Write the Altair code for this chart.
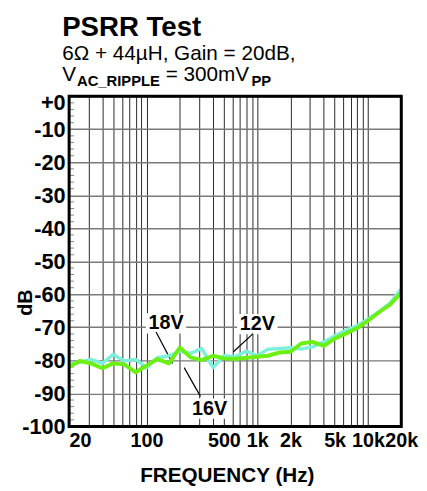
import altair as alt
import pandas as pd

# ---------------- data ----------------
freqs = [20, 25, 31.5, 40, 50, 63, 80, 100, 125, 160, 200, 250, 315, 400, 500, 630,
         800, 1000, 1250, 1600, 2000, 2500, 3150, 4000, 5000, 6300, 8000, 10000,
         12500, 16000, 20000]
cyan_db = [-81.2, -80.6, -79.7, -80.9, -78.2, -80.2, -79.7, -82.2, -79.2, -78.6,
           -77.2, -77.9, -76.4, -82.2, -78.6, -78.9, -77.2, -78.6, -76.6, -76.4,
           -76.2, -76.6, -75.9, -74.4, -72.6, -70.9, -69.5, -67.5, -65.3, -62.5, -58.3]
green_db = [-81.9, -80.2, -80.9, -82.4, -80.9, -81.2, -83.6, -81.6, -79.6, -80.9,
            -76.1, -79.1, -79.9, -78.6, -79.4, -79.6, -79.2, -78.9, -78.6, -77.6,
            -77.4, -74.9, -74.4, -75.6, -73.4, -71.9, -70.2, -68.0, -65.5, -63.0, -59.5]

grid_x = [20, 30, 40, 50, 60, 70, 80, 90, 100, 200, 300, 400, 500, 600, 700, 800, 900,
          1000, 2000, 3000, 4000, 5000, 6000, 7000, 8000, 9000, 10000, 20000]
label_x = [20, 100, 500, 1000, 2000, 5000, 10000, 20000]
y_ticks = list(range(-100, 1, 10))
y_minor = [v for v in range(-98, 0, 2) if v % 10 != 0]

ann_text = ["18V", "12V", "16V"]
ann_f = [150, 1003, 371]
ann_db = [-68.8, -69.0, -94.6]
lead_f1 = [122, 918, 219]
lead_db1 = [-71.4, -71.9, -82.2]
lead_f2 = [172, 610, 307]
lead_db2 = [-80.9, -77.4, -90.9]

FONT = "Liberation Sans"
W, H = 337, 335

# ---------------- scales / axes ----------------
xs = alt.Scale(type="log", domain=[20, 20000], nice=False)
ys = alt.Scale(domain=[-100, 0], nice=False, zero=False)

x_axis = alt.Axis(
    values=grid_x,
    labelExpr="indexof(%s, datum.value) >= 0 ? (datum.value >= 1000 ? (datum.value/1000) + 'k' : '' + datum.value) : ''" % str(label_x),
    grid=True, gridColor="#2a2a2a", gridWidth=1, ticks=False, domain=False,
    labelFont=FONT, labelFontWeight="bold", labelFontSize=20, labelColor="black",
    labelPadding=4, labelOverlap=False, labelFlush=False,
    labelAlign={"condition": {"test": "datum.value <= 20", "value": "left"}, "value": "center"},
    title="FREQUENCY (Hz)", titleFont=FONT, titleFontSize=21, titleFontWeight="bold",
    titleColor="black", titleX=160, titleY=56, titleAlign="center", titleBaseline="alphabetic",
)
y_axis = alt.Axis(
    values=y_ticks,
    labelExpr="datum.value == 0 ? '+0' : '-' + abs(datum.value)",
    grid=True, gridColor="#7a7a7a", gridWidth=1.5, ticks=False, domain=False,
    labelFont=FONT, labelFontWeight="bold", labelFontSize=22, labelColor="black",
    labelPadding=4, labelFlush=False, labelOverlap=False,
    labelOffset={"condition": {"test": "datum.value == 0", "value": 6}, "value": 0},
    title="dB", titleFont=FONT, titleFontSize=20, titleFontWeight="bold", titleColor="black",
    titleX=-38, titleY=209, titleAlign="center", titleBaseline="alphabetic", titleAngle=270,
)


def X(field):
    return alt.X(field, type="quantitative", scale=xs, axis=x_axis)


def Y(field):
    return alt.Y(field, type="quantitative", scale=ys, axis=y_axis)


cyan_df = pd.DataFrame({"f": freqs, "db": cyan_db})
green_df = pd.DataFrame({"f": freqs, "db": green_db})
ann_df = pd.DataFrame({"t": ann_text, "f": ann_f, "db": ann_db})
lead_df = pd.DataFrame({"f": lead_f1, "db": lead_db1, "f2": lead_f2, "db2": lead_db2})
minor_df = pd.DataFrame({"db": y_minor})
one = pd.DataFrame({"k": [0]})

minor = alt.Chart(minor_df).mark_rule(color="#888888", strokeWidth=1).encode(
    x=alt.value(0), x2=alt.value(5), y=Y("db"))

boxes = alt.Chart(ann_df).mark_point(
    shape="M-1,-0.5L1,-0.5L1,0.5L-1,0.5Z", filled=True, fill="white",
    size=1681, opacity=1, strokeWidth=0).encode(x=X("f"), y=Y("db"))

leads = alt.Chart(lead_df).mark_rule(color="black", strokeWidth=1.2).encode(
    x=X("f"), y=Y("db"), x2="f2", y2="db2")

cyan = alt.Chart(cyan_df).mark_line(color="#7df0dc", strokeWidth=3.5, strokeJoin="round").encode(
    x=X("f"), y=Y("db"))
green = alt.Chart(green_df).mark_line(color="#6cf014", strokeWidth=4, strokeJoin="round").encode(
    x=X("f"), y=Y("db"))

ann = alt.Chart(ann_df).mark_text(font=FONT, fontSize=20, fontWeight="bold", color="black",
                                  align="center", baseline="middle").encode(
    x=X("f"), y=Y("db"), text="t")

frame = alt.Chart(one).mark_rect(fill=None, fillOpacity=0, stroke="black", strokeWidth=3).encode(
    x=alt.value(0), x2=alt.value(W), y=alt.value(0), y2=alt.value(H))


def txt(s, x, y, size, weight):
    return alt.Chart(one).mark_text(text=s, font=FONT, fontSize=size, fontWeight=weight,
                                    color="black", align="left", baseline="alphabetic").encode(
        x=alt.value(x), y=alt.value(y))


t1 = txt("PSRR Test", -7, -61, 28, "bold")
t2 = txt("6Ω + 44µH, Gain = 20dB,", -7, -37, 21, "normal")
t3 = txt("V", -7, -15, 21, "normal")
t4 = txt("AC_RIPPLE", 8, -10, 15, "bold")
t5 = txt("= 300mV", 98, -15, 21, "normal")
t6 = txt("PP", 185, -10, 15, "bold")

chart = alt.layer(minor, boxes, leads, cyan, green, ann, frame, t1, t2, t3, t4, t5, t6).properties(
    width=W, height=H,
    autosize=alt.AutoSizeParams(type="none"),
    padding={"left": 62, "top": 86, "right": 18, "bottom": 62},
).configure_view(stroke=None).configure(background="white")

chart.save("out.html", embed_options={"renderer": "svg", "actions": False})
